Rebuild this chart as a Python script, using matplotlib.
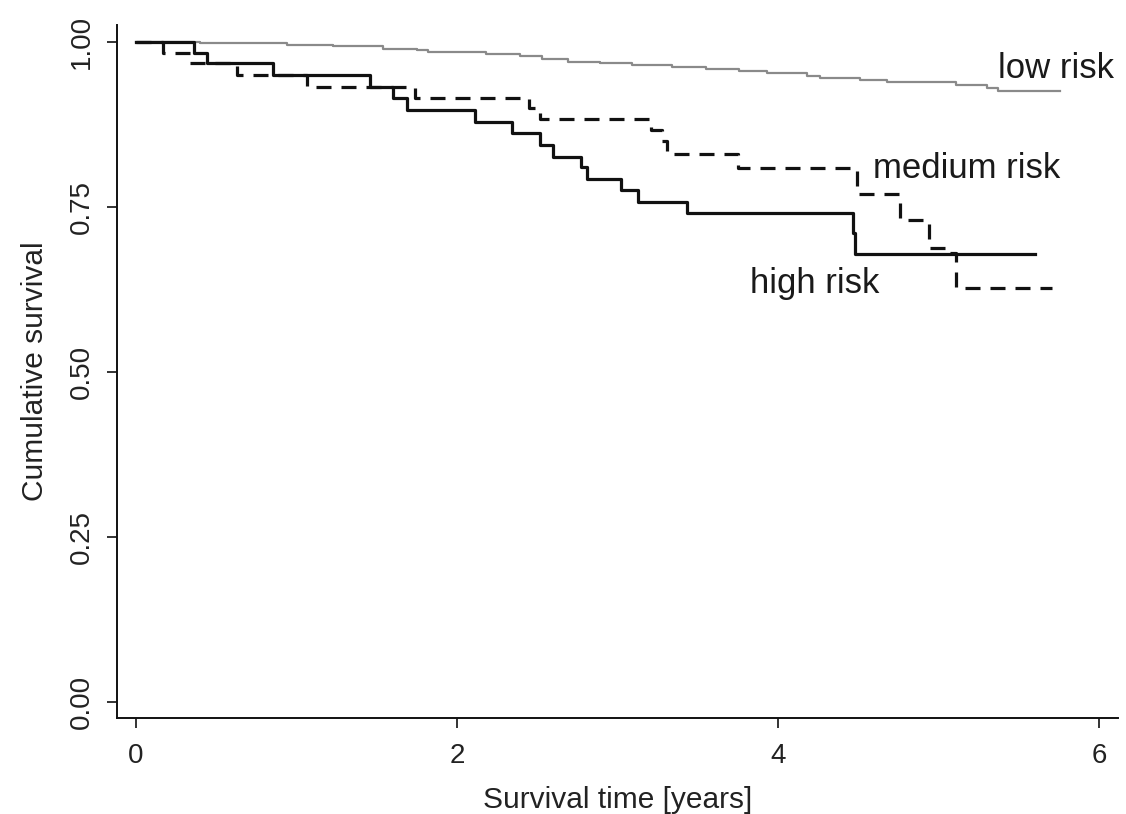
import matplotlib
matplotlib.use("Agg")
import matplotlib.pyplot as plt

plt.rcParams['font.family'] = ['Liberation Sans', 'DejaVu Sans']
plt.rcParams['lines.scale_dashes'] = False

# High risk (solid black) step curve
high_t = [0.0, 0.363, 0.440, 0.855, 1.458, 1.603, 1.687, 2.112, 2.34, 2.52, 2.60,
          2.77, 2.81, 3.02, 3.13, 3.43, 4.47, 4.48, 5.60]
high_s = [1.0, 0.983, 0.967, 0.950, 0.932, 0.914, 0.897, 0.879, 0.861, 0.844, 0.825,
          0.810, 0.792, 0.775, 0.757, 0.740, 0.710, 0.679, 0.679]

# Medium risk (dashed black) step curve
med_t = [0.0, 0.170, 0.336, 0.627, 1.063, 1.738, 2.45, 2.52, 3.21, 3.28, 3.31,
         3.75, 4.49, 4.76, 4.94, 5.05, 5.11, 5.705]
med_s = [1.0, 0.983, 0.967, 0.950, 0.932, 0.914, 0.899, 0.883, 0.867, 0.849, 0.830,
         0.808, 0.770, 0.730, 0.687, 0.680, 0.627, 0.627]

# Low risk (grey) step curve
low_t = [0.0, 0.40, 0.94, 1.23, 1.54, 1.75, 1.82, 2.18, 2.39, 2.53, 2.69, 2.89,
         3.09, 3.34, 3.55, 3.76, 3.93, 4.18, 4.26, 4.51, 4.68, 5.11, 5.30, 5.37, 5.757]
low_s = [1.0, 0.998, 0.995, 0.993, 0.989, 0.987, 0.984, 0.981, 0.978, 0.974, 0.970,
         0.967, 0.964, 0.961, 0.958, 0.955, 0.952, 0.948, 0.945, 0.942, 0.939, 0.934,
         0.930, 0.925, 0.925]

x_ticks = [0, 2, 4, 6]
x_tick_labels = ["0", "2", "4", "6"]
y_ticks = [0.0, 0.25, 0.50, 0.75, 1.00]
y_tick_labels = ["0.00", "0.25", "0.50", "0.75", "1.00"]

labels = ["low risk", "medium risk", "high risk"]
label_pos = [(5.371, 0.9446), (4.592, 0.7931), (3.826, 0.619)]

fig = plt.figure(figsize=(11.26, 8.14), dpi=100)
ax = fig.add_axes([117/1126, 1 - 718/814, (1118 - 117)/1126, (718 - 25)/814])

ax.plot(low_t, low_s, drawstyle='steps-post', color='#8a8a8a', lw=1.6)
ax.plot(med_t, med_s, drawstyle='steps-post', color='#111111', lw=2.3,
        linestyle=(0, (10.8, 7.2)))
ax.plot(high_t, high_s, drawstyle='steps-post', color='#111111', lw=2.3)

for lab, (tx, ty) in zip(labels, label_pos):
    ax.text(tx, ty, lab, fontsize=25, color='#1a1a1a', ha='left', va='baseline')

ax.set_xlim(-0.118, 6.118)
ax.set_ylim(-0.0242, 1.0253)
ax.set_xticks(x_ticks)
ax.set_xticklabels(x_tick_labels)
ax.set_yticks(y_ticks)
ax.set_yticklabels(y_tick_labels, rotation=90, va='center')

ax.spines['top'].set_visible(False)
ax.spines['right'].set_visible(False)
for s in ['left', 'bottom']:
    ax.spines[s].set_linewidth(1.4)
    ax.spines[s].set_color('#111111')

ax.tick_params(axis='both', direction='out', length=7.2, width=1.2, colors='#111111',
               labelsize=20, labelcolor='#222222')
ax.tick_params(axis='x', pad=11)
ax.tick_params(axis='y', pad=9)

ax.set_xlabel("Survival time [years]", fontsize=21.5, color='#222222', labelpad=12)
ax.set_ylabel("Cumulative survival", fontsize=21.5, color='#222222', labelpad=14)

fig.savefig("out.png", dpi=100)
